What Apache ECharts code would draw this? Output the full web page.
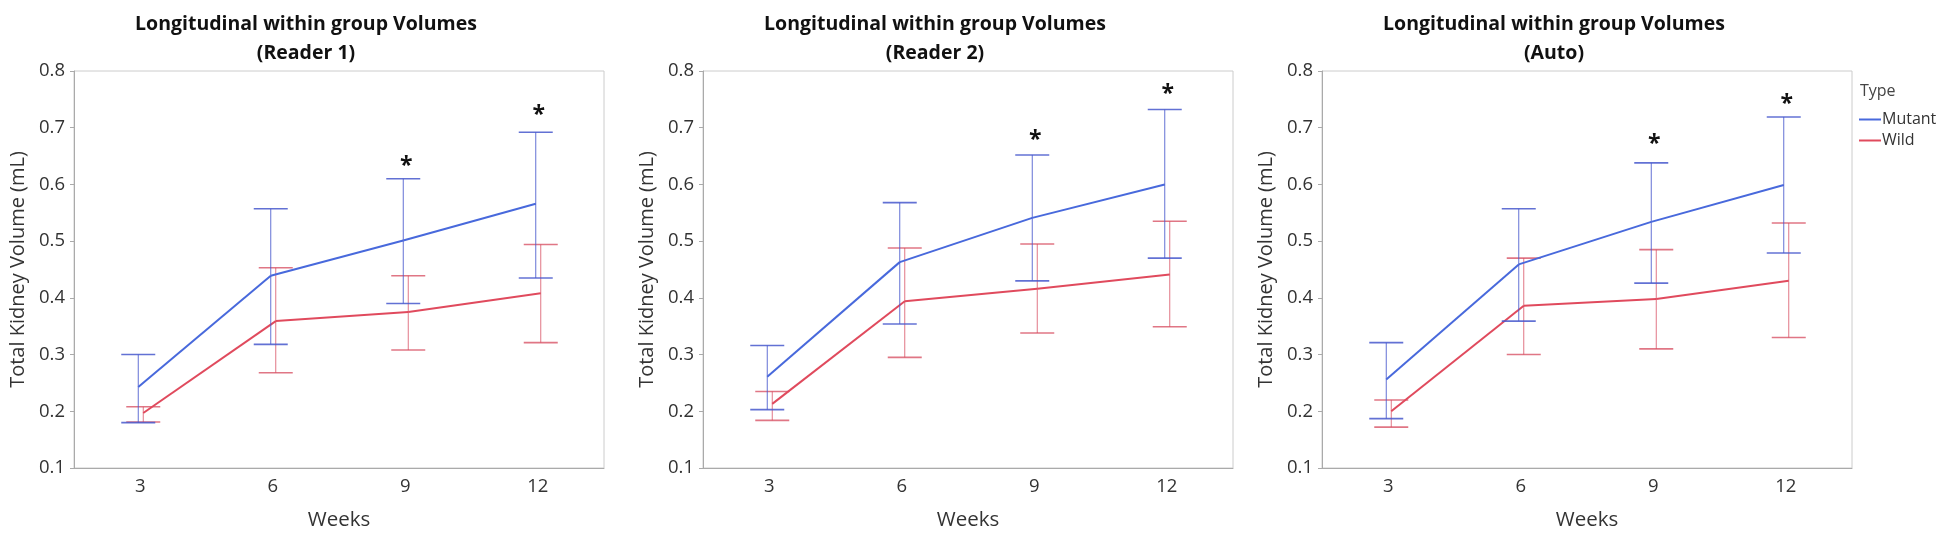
<!DOCTYPE html>
<html>
<head>
<meta charset="utf-8">
<script src="https://cdn.jsdelivr.net/npm/echarts@6/dist/echarts.min.js"></script>
<style>
  html, body { margin: 0; padding: 0; background: #ffffff; }
  #chart { width: 1950px; height: 536px; }
</style>
</head>
<body>
<div id="chart"></div>
<script>
// ---- Data ----
const categories = ['3', '6', '9', '12'];
const panelTitles = ['(Reader 1)', '(Reader 2)', '(Auto)'];
const mainTitle = 'Longitudinal within group Volumes';
const groupNames = ['Mutant', 'Wild'];
const yTicks = [0.1, 0.2, 0.3, 0.4, 0.5, 0.6, 0.7, 0.8];

// Reader 1
const mutantMean1 = [0.243, 0.439, 0.501, 0.566];
const mutantLow1  = [0.180, 0.318, 0.390, 0.435];
const mutantHigh1 = [0.300, 0.557, 0.610, 0.692];
const wildMean1   = [0.197, 0.359, 0.375, 0.408];
const wildLow1    = [0.181, 0.268, 0.308, 0.321];
const wildHigh1   = [0.208, 0.453, 0.439, 0.494];
const star1       = [null, null, 0.641, 0.730];

// Reader 2
const mutantMean2 = [0.261, 0.463, 0.541, 0.600];
const mutantLow2  = [0.203, 0.354, 0.430, 0.470];
const mutantHigh2 = [0.316, 0.568, 0.652, 0.732];
const wildMean2   = [0.213, 0.394, 0.416, 0.441];
const wildLow2    = [0.184, 0.295, 0.338, 0.349];
const wildHigh2   = [0.235, 0.488, 0.495, 0.535];
const star2       = [null, null, 0.687, 0.767];

// Auto
const mutantMean3 = [0.256, 0.459, 0.534, 0.599];
const mutantLow3  = [0.187, 0.359, 0.426, 0.479];
const mutantHigh3 = [0.321, 0.557, 0.638, 0.719];
const wildMean3   = [0.200, 0.386, 0.398, 0.430];
const wildLow3    = [0.172, 0.300, 0.310, 0.330];
const wildHigh3   = [0.220, 0.470, 0.485, 0.532];
const star3       = [null, null, 0.679, 0.749];

const panels = [
  { mutant: [mutantMean1, mutantLow1, mutantHigh1], wild: [wildMean1, wildLow1, wildHigh1], stars: star1 },
  { mutant: [mutantMean2, mutantLow2, mutantHigh2], wild: [wildMean2, wildLow2, wildHigh2], stars: star2 },
  { mutant: [mutantMean3, mutantLow3, mutantHigh3], wild: [wildMean3, wildLow3, wildHigh3], stars: star3 }
];

// ---- Layout / style ----
const FONT = '"Open Sans", "Noto Sans", sans-serif';
const gridLefts = [74, 703, 1322];
const gridWidth = 530;
const gridTop = 71;
const gridHeight = 406;
const blue = '#4869dc';
const red = '#e04a5d';
const blueBar = 'rgba(70, 88, 205, 0.85)';
const redBar = 'rgba(214, 72, 92, 0.75)';

const chart = echarts.init(document.getElementById('chart'), null, { renderer: 'canvas' });

function groupSeries(p, name, arr, color, barColor, dx, z) {
  const [mean, low, high] = arr;
  return {
    type: 'custom',
    name: name,
    xAxisIndex: p,
    yAxisIndex: p,
    z: z,
    itemStyle: { color: color },
    data: mean.map((m, i) => [i, m, low[i], high[i]]),
    renderItem: function (params, api) {
      const i = api.value(0);
      const pm = api.coord([i, api.value(1)]);
      const pl = api.coord([i, api.value(2)]);
      const ph = api.coord([i, api.value(3)]);
      const x = pm[0] + dx;
      const hw = 17;
      const children = [
        { type: 'line', shape: { x1: x, y1: ph[1], x2: x, y2: pl[1] }, style: { stroke: barColor, lineWidth: 1 } },
        { type: 'line', shape: { x1: x - hw, y1: ph[1], x2: x + hw, y2: ph[1] }, style: { stroke: barColor, lineWidth: 1.6 } },
        { type: 'line', shape: { x1: x - hw, y1: pl[1], x2: x + hw, y2: pl[1] }, style: { stroke: barColor, lineWidth: 1.6 } }
      ];
      if (i < mean.length - 1) {
        const pn = api.coord([i + 1, mean[i + 1]]);
        children.push({ type: 'line', shape: { x1: x, y1: pm[1], x2: pn[0] + dx, y2: pn[1] }, style: { stroke: color, lineWidth: 2 } });
      }
      return { type: 'group', children: children };
    }
  };
}

function starSeries(p, stars) {
  return {
    type: 'custom',
    name: 'stars' + p,
    xAxisIndex: p,
    yAxisIndex: p,
    z: 5,
    data: stars.map((s, i) => [i, s]).filter(d => d[1] !== null),
    renderItem: function (params, api) {
      const pt = api.coord([api.value(0), api.value(1)]);
      return {
        type: 'text',
        x: pt[0] + 1,
        y: pt[1] + 5,
        style: { text: '*', fill: '#111', font: 'bold 23px ' + FONT, textAlign: 'center', textVerticalAlign: 'middle' }
      };
    }
  };
}

const grids = [], xAxes = [], yAxes = [], series = [], graphics = [];
panels.forEach((pd, p) => {
  grids.push({ left: gridLefts[p], top: gridTop, width: gridWidth, height: gridHeight, show: true, borderColor: '#cccccc', borderWidth: 1, backgroundColor: 'transparent', containLabel: false });
  xAxes.push({
    type: 'category', gridIndex: p, data: categories, boundaryGap: true,
    name: 'Weeks', nameLocation: 'middle', nameGap: 42,
    nameTextStyle: { fontFamily: FONT, fontSize: 20.5, color: '#333' },
    axisLine: { show: true, lineStyle: { color: '#aaaaaa', width: 1 } },
    axisTick: { show: false },
    axisLabel: { fontFamily: FONT, fontSize: 18.5, color: '#333', margin: 9 },
    splitLine: { show: false }
  });
  yAxes.push({
    type: 'value', gridIndex: p, min: yTicks[0], max: yTicks[yTicks.length - 1], interval: 0.1,
    name: 'Total Kidney Volume (mL)', nameLocation: 'middle', nameGap: 46,
    nameTextStyle: { fontFamily: FONT, fontSize: 20, color: '#333' },
    axisLine: { show: true, lineStyle: { color: '#aaaaaa', width: 1 } },
    axisTick: { show: true, length: 4, lineStyle: { color: '#aaaaaa' } },
    axisLabel: { fontFamily: FONT, fontSize: 18.5, color: '#333', margin: 9, formatter: v => (Math.round(v * 10) / 10).toFixed(1) },
    splitLine: { show: false }
  });
  series.push(groupSeries(p, groupNames[1], pd.wild, red, redBar, 3, 2));
  series.push(groupSeries(p, groupNames[0], pd.mutant, blue, blueBar, -2, 3));
  series.push(starSeries(p, pd.stars));
  graphics.push({
    type: 'text', x: gridLefts[p] + gridWidth / 2 - 33, y: 10,
    style: { text: mainTitle + '\n' + panelTitles[p], fill: '#111', font: 'bold 19.5px ' + FONT, textAlign: 'center', lineHeight: 29 }
  });
});

graphics.push({
  type: 'text', x: 1860, y: 83,
  style: { text: 'Type', fill: '#444', font: '16px ' + FONT }
});

chart.setOption({
  animation: false,
  backgroundColor: '#ffffff',
  grid: grids,
  xAxis: xAxes,
  yAxis: yAxes,
  series: series,
  graphic: graphics,
  legend: {
    data: groupNames,
    orient: 'vertical',
    left: 1859,
    top: 111,
    icon: 'rect',
    itemWidth: 22,
    itemHeight: 2,
    itemGap: 4,
    padding: 0,
    textStyle: { fontFamily: FONT, fontSize: 16, color: '#333', padding: [0, 0, 0, -4], lineHeight: 17 }
  }
});
</script>
</body>
</html>
